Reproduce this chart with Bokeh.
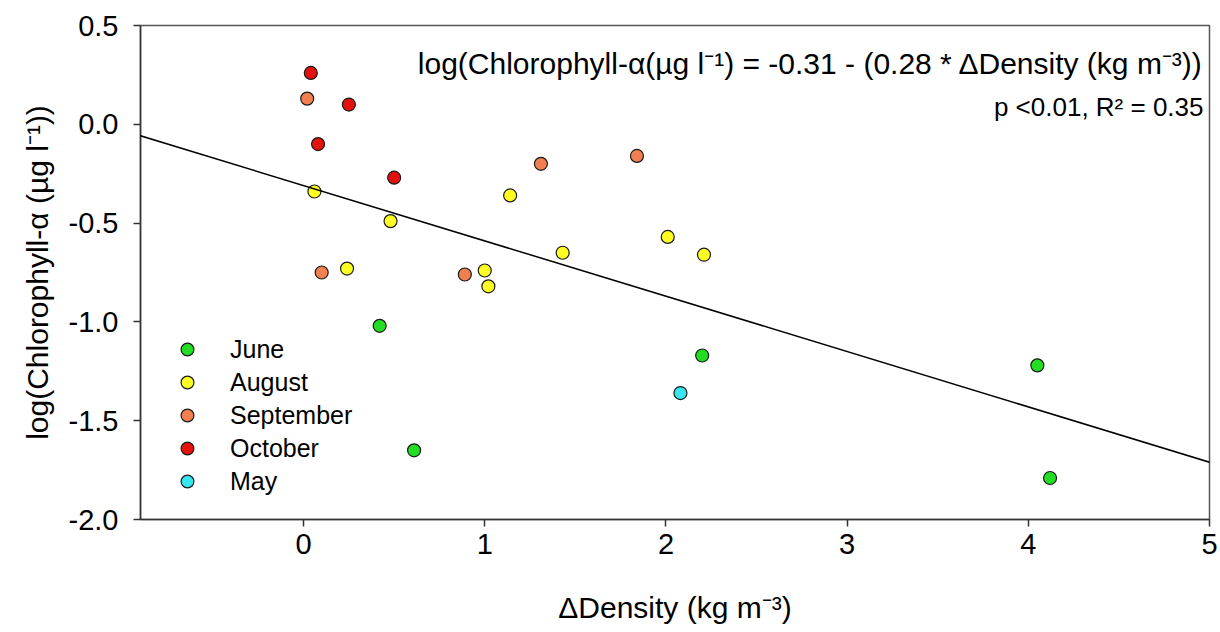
from bokeh.plotting import figure
from bokeh.models import Range1d, FixedTicker, NumeralTickFormatter, Slope, Label
from bokeh.embed import file_html
from bokeh.resources import INLINE

# ---- data ----
months = ["June", "August", "September", "October", "May"]
month_colors = ["#22dd22", "#ffff22", "#f0804f", "#e3120f", "#38e6f0"]

june_x = [0.42, 0.61, 2.20, 4.05, 4.12]
june_y = [-1.02, -1.65, -1.17, -1.22, -1.79]

august_x = [0.06, 0.48, 0.24, 1.14, 1.43, 2.01, 2.21, 1.00, 1.02]
august_y = [-0.34, -0.49, -0.73, -0.36, -0.65, -0.57, -0.66, -0.74, -0.82]

september_x = [0.02, 0.10, 1.31, 1.84, 0.89]
september_y = [0.13, -0.75, -0.20, -0.16, -0.76]

october_x = [0.04, 0.25, 0.08, 0.50]
october_y = [0.26, 0.10, -0.10, -0.27]

may_x = [2.08]
may_y = [-1.36]

series_x = [june_x, august_x, september_x, october_x, may_x]
series_y = [june_y, august_y, september_y, october_y, may_y]

intercept = -0.31
slope_val = -0.28
r_squared = 0.35

x_ticks = [0, 1, 2, 3, 4, 5]
y_ticks = [-2.0, -1.5, -1.0, -0.5, 0.0, 0.5]

FONT = "Liberation Sans"

p = figure(width=1220, height=632, output_backend="svg", toolbar_location=None,
           x_range=Range1d(-0.9, 5), y_range=Range1d(-2.0, 0.5),
           min_border_left=140, min_border_right=11, min_border_top=25,
           min_border_bottom=113)
p.grid.visible = False
p.background_fill_color = "white"
p.border_fill_color = "white"
p.outline_line_color = "#555555"
p.outline_line_width = 1.5

# regression line
p.add_layout(Slope(gradient=slope_val, y_intercept=intercept,
                   line_color="black", line_width=1.5))

for name, col, xs, ys in zip(months, month_colors, series_x, series_y):
    p.scatter(xs, ys, size=13, fill_color=col, line_color="#1a1a1a",
              line_width=1.2, legend_label=name)

# axes
for ax in (p.xaxis[0], p.yaxis[0]):
    ax.axis_line_color = "#333333"
    ax.axis_line_width = 1.5
    ax.major_tick_line_color = "#333333"
    ax.major_tick_line_width = 1.5
    ax.major_tick_out = 7
    ax.major_tick_in = 0
    ax.minor_tick_out = 0
    ax.minor_tick_in = 0
    ax.major_label_text_font = FONT
    ax.major_label_text_font_size = "29px"
    ax.major_label_text_color = "black"
    ax.axis_label_text_font = FONT
    ax.axis_label_text_font_size = "30px"
    ax.axis_label_text_font_style = "normal"
    ax.axis_label_text_color = "black"

p.xaxis[0].ticker = FixedTicker(ticks=x_ticks)
p.xaxis[0].formatter = NumeralTickFormatter(format="0")
p.yaxis[0].ticker = FixedTicker(ticks=y_ticks)
p.yaxis[0].formatter = NumeralTickFormatter(format="0.0")
p.xaxis[0].major_label_standoff = 7
p.yaxis[0].major_label_standoff = 15
p.xaxis[0].axis_label = "ΔDensity (kg m⁻³)"
p.yaxis[0].axis_label = "log(Chlorophyll-α (µg l⁻¹))"
p.xaxis[0].axis_label_standoff = 34
p.yaxis[0].axis_label_standoff = 12

# equation annotation
eq1 = "log(Chlorophyll-α(µg l⁻¹) = %.2f - (%.2f * ΔDensity (kg m⁻³))" % (intercept, -slope_val)
eq2 = "p <0.01, R² = %.2f" % r_squared
for txt, yy, fs in ((eq1, 0.31, "30px"), (eq2, 0.09, "26px")):
    p.add_layout(Label(x=5, y=yy, x_offset=-6, text=txt, text_align="right",
                       text_baseline="middle", text_font=FONT,
                       text_font_size=fs, text_color="black"))

# legend
lg = p.legend[0]
lg.location = (31, 22)
lg.margin = 0
lg.padding = 0
lg.spacing = 1
lg.glyph_width = 32
lg.glyph_height = 32
lg.label_height = 32
lg.label_standoff = 27
lg.label_text_font = FONT
lg.label_text_font_size = "25px"
lg.label_text_color = "black"
lg.border_line_color = None
lg.background_fill_alpha = 0

open("out.html", "w").write(file_html(p, INLINE))
